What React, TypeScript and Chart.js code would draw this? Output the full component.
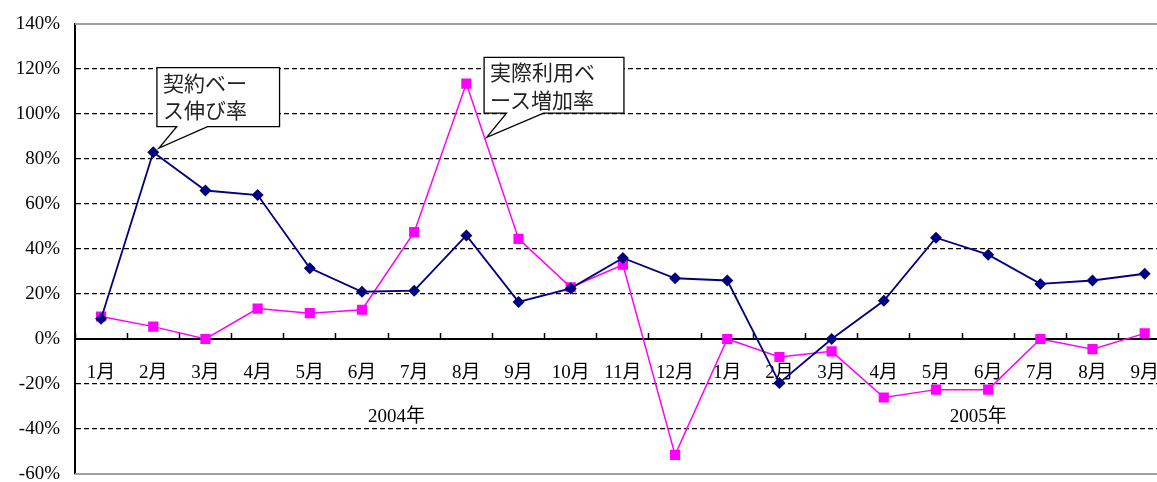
import React, { useEffect, useRef } from 'react';
import { Chart, registerables } from 'chart.js';

Chart.register(...registerables);

// ---- data ----
const categories = ['1月', '2月', '3月', '4月', '5月', '6月', '7月', '8月', '9月', '10月', '11月', '12月', '1月', '2月', '3月', '4月', '5月', '6月', '7月', '8月', '9月'];
const contractGrowth = [9, 83, 66, 64, 31.5, 21, 21.5, 46, 16.5, 22.5, 36, 27, 26, -19.5, 0, 17, 45, 37.5, 24.5, 26, 29];
const actualUsageGrowth = [10, 5.5, 0, 13.5, 11.5, 13, 47.5, 113.5, 44.5, 23, 33, -51.5, 0, -8, -5.5, -26, -22.5, -22.5, 0, -4.5, 2.5];
const yTickMin = -60;
const yTickMax = 140;
const yTickStep = 20;
const yearLabels = ['2004年', '2005年'];
const yearLabelIndex = [5.66, 16.81];
const yearLabelValue = -34.5;

const calloutTexts = [
  ['契約ベー', 'ス伸び率'],
  ['実際利用ベ', 'ース増加率'],
];
// box: [leftIndex, topValue, rightIndex, bottomValue]; tail base indices; tip [index, value]
const calloutGeom = [
  { box: [1.07, 120.6, 3.42, 94.4], base: [1.45, 2.04], tip: [1.11, 84.9] },
  { box: [7.34, 125.2, 10.02, 100.4], base: [7.77, 8.48], tip: [7.39, 89.6] },
];

const serifFont = "'Liberation Serif', 'Times New Roman', 'Noto Sans CJK JP', serif";
const gothicFont = "'Noto Sans CJK JP', sans-serif";

const zeroPadding = (s: any) => {
  s.paddingLeft = 0;
  s.paddingRight = 0;
  s.paddingTop = 0;
  s.paddingBottom = 0;
};

const framePlugin = {
  id: 'frame',
  beforeDatasetsDraw(chart: any) {
    const { ctx, chartArea } = chart;
    ctx.save();
    ctx.strokeStyle = '#a0a0a0';
    ctx.lineWidth = 2;
    ctx.beginPath();
    ctx.moveTo(chartArea.left, chartArea.top);
    ctx.lineTo(chartArea.right, chartArea.top);
    ctx.moveTo(chartArea.left, chartArea.bottom);
    ctx.lineTo(chartArea.right, chartArea.bottom);
    ctx.stroke();
    ctx.restore();
  },
};

const yearPlugin = {
  id: 'years',
  afterDraw(chart: any) {
    const { ctx } = chart;
    const xs = chart.scales.x;
    const ys = chart.scales.y;
    ctx.save();
    ctx.fillStyle = '#000';
    ctx.font = `19px ${serifFont}`;
    ctx.textAlign = 'center';
    ctx.textBaseline = 'middle';
    yearLabels.forEach((t, i) => {
      ctx.fillText(t, xs.getPixelForValue(yearLabelIndex[i]), ys.getPixelForValue(yearLabelValue));
    });
    ctx.restore();
  },
};

const calloutPlugin = {
  id: 'callouts',
  afterDatasetsDraw(chart: any) {
    const { ctx } = chart;
    const xs = chart.scales.x;
    const ys = chart.scales.y;
    calloutGeom.forEach((g, i) => {
      const l = xs.getPixelForValue(g.box[0]);
      const t = ys.getPixelForValue(g.box[1]);
      const r = xs.getPixelForValue(g.box[2]);
      const b = ys.getPixelForValue(g.box[3]);
      const b1 = xs.getPixelForValue(g.base[0]);
      const b2 = xs.getPixelForValue(g.base[1]);
      const tx = xs.getPixelForValue(g.tip[0]);
      const ty = ys.getPixelForValue(g.tip[1]);
      ctx.save();
      ctx.beginPath();
      ctx.moveTo(l, t);
      ctx.lineTo(r, t);
      ctx.lineTo(r, b);
      ctx.lineTo(b2, b);
      ctx.lineTo(tx, ty);
      ctx.lineTo(b1, b);
      ctx.lineTo(l, b);
      ctx.closePath();
      ctx.fillStyle = '#fff';
      ctx.fill();
      ctx.strokeStyle = '#000';
      ctx.lineWidth = 1.3;
      ctx.stroke();
      ctx.fillStyle = '#222';
      ctx.font = `21px ${gothicFont}`;
      ctx.textAlign = 'left';
      ctx.textBaseline = 'middle';
      calloutTexts[i].forEach((line, k) => {
        ctx.fillText(line, l + 6, t + 15 + k * 27.5);
      });
      ctx.restore();
    });
  },
};

export default function App() {
  const canvasRef = useRef<HTMLCanvasElement | null>(null);

  useEffect(() => {
    if (!canvasRef.current) return;
    const chart = new Chart(canvasRef.current, {
      type: 'line',
      data: {
        labels: categories,
        datasets: [
          {
            label: '契約ベース伸び率',
            data: contractGrowth,
            borderColor: '#000080',
            backgroundColor: '#000080',
            borderWidth: 1.8,
            pointStyle: 'rectRot',
            pointRadius: 6,
            pointBorderWidth: 0,
            tension: 0,
          },
          {
            label: '実際利用ベース増加率',
            data: actualUsageGrowth,
            borderColor: '#FF00FF',
            backgroundColor: '#FF00FF',
            borderWidth: 1.5,
            pointStyle: 'rect',
            pointRadius: 7.2,
            pointBorderWidth: 0,
            tension: 0,
          },
        ],
      },
      options: {
        animation: false,
        responsive: false,
        layout: { padding: { top: 24, bottom: 8, left: 0, right: 0 } },
        plugins: {
          legend: { display: false },
          tooltip: { enabled: false },
        },
        scales: {
          y: {
            min: yTickMin,
            max: yTickMax,
            ticks: {
              stepSize: yTickStep,
              callback: (v: any) => `${v}%`,
              color: '#000',
              font: { family: serifFont, size: 19 },
              padding: 15,
            },
            grid: {
              color: (c: any) =>
                c.tick && (c.tick.value === yTickMax || c.tick.value === yTickMin) ? 'rgba(0,0,0,0)' : '#000',
              lineWidth: 1.2,
              drawTicks: false,
            },
            border: { display: true, color: '#000', width: 2, dash: [5, 3] },
            afterFit: (s: any) => {
              s.width = 75;
              zeroPadding(s);
            },
          },
          x: {
            type: 'category',
            position: { y: 0 } as any,
            offset: true,
            grid: {
              offset: true,
              drawOnChartArea: false,
              drawTicks: true,
              tickLength: -7,
              color: '#000',
              tickColor: '#000',
              tickWidth: 1.5,
            },
            border: { display: true, color: '#000', width: 2 },
            ticks: {
              color: '#000',
              font: { family: serifFont, size: 19 },
              padding: 30,
              maxRotation: 0,
              autoSkip: false,
            },
            afterFit: zeroPadding,
          },
        },
      },
      plugins: [framePlugin, calloutPlugin, yearPlugin],
    });
    return () => chart.destroy();
  }, []);

  return (
    <div style={{ position: 'absolute', left: 0, top: 0, width: 1157, height: 482, overflow: 'hidden', background: '#fff' }}>
      <canvas ref={canvasRef} width={1178} height={482} style={{ width: 1178, height: 482, display: 'block' }} />
    </div>
  );
}
